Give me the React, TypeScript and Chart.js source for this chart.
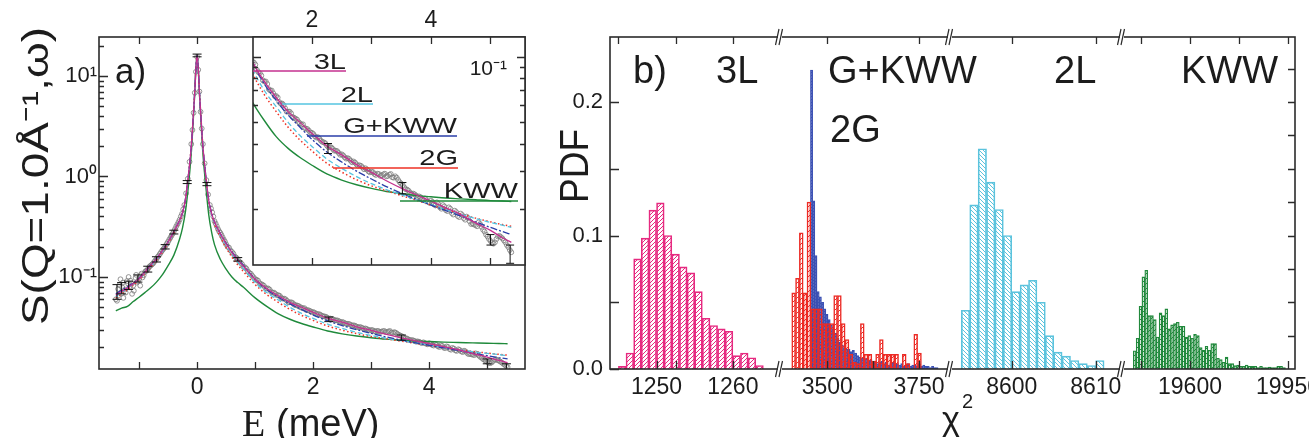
import React, { useEffect, useRef } from "react";
import { Chart, registerables } from "chart.js";

Chart.register(...registerables);

const SANS = '"Liberation Sans", Arial, Helvetica, sans-serif';
const SERIF = '"Liberation Serif", "Times New Roman", serif';
const INK = "#1c1c1c";
const FRAME = "#2b2b2b";

// ---------- colours ----------
const C_KWW_LINE = "#1f8a3b";
const C_2G_LINE = "#ee3124";
const C_2L_LINE = "#55c4e0";
const C_GKWW_LINE = "#2a3ea8";
const C_3L_LINE = "#c4308f";
const C_DATA = "#7a7a7a";

const C_3L_BAR = "#e62a80";
const C_2G_BAR = "#ec2b25";
const C_GKWW_BAR = "#3b50b3";
const C_2L_BAR = "#5bc3dd";
const C_KWW_BAR = "#21893c";

// ---------- panel a: fits (energy grid shared) ----------
const FIT_E = [-1.4, -1.3, -1.2, -1.1, -1.0, -0.9, -0.8, -0.7, -0.6, -0.5, -0.4, -0.3, -0.25, -0.2, -0.15, -0.1, -0.07, -0.04, -0.02, 0, 0.02, 0.04, 0.07, 0.1, 0.15, 0.2, 0.25, 0.3, 0.4, 0.5, 0.6, 0.7, 0.8, 1.0, 1.2, 1.4, 1.6, 1.8, 2.0, 2.25, 2.5, 2.75, 3.0, 3.25, 3.5, 3.75, 4.0, 4.25, 4.5, 4.75, 5.0, 5.2, 5.35];
const FIT_3L = [0.066, 0.072, 0.078, 0.086, 0.096, 0.112, 0.131, 0.152, 0.182, 0.223, 0.283, 0.37, 0.44, 0.6, 1.02, 2.0, 3.6, 7.0, 12, 16, 12, 7.0, 3.6, 2.0, 1.0, 0.58, 0.43, 0.355, 0.27, 0.215, 0.176, 0.148, 0.128, 0.095, 0.077, 0.065, 0.056, 0.05, 0.0445, 0.039, 0.0355, 0.032, 0.0295, 0.027, 0.025, 0.0233, 0.0218, 0.0203, 0.0189, 0.0173, 0.016, 0.0148, 0.0141];
const FIT_2L = [0.064, 0.07, 0.077, 0.085, 0.095, 0.11, 0.128, 0.149, 0.178, 0.218, 0.278, 0.365, 0.435, 0.59, 1.0, 1.98, 3.6, 7.0, 12, 16, 12, 7.0, 3.6, 1.98, 1.0, 0.57, 0.42, 0.345, 0.262, 0.208, 0.17, 0.142, 0.121, 0.088, 0.07, 0.059, 0.05, 0.0435, 0.0388, 0.034, 0.0308, 0.0282, 0.0262, 0.0246, 0.0233, 0.0221, 0.021, 0.0199, 0.019, 0.0181, 0.0174, 0.0169, 0.0165];
const FIT_GKWW = [0.068, 0.074, 0.08, 0.087, 0.097, 0.113, 0.132, 0.153, 0.183, 0.224, 0.284, 0.37, 0.44, 0.6, 1.02, 2.0, 3.6, 7.0, 12, 16, 12, 7.0, 3.6, 2.0, 1.02, 0.59, 0.435, 0.355, 0.272, 0.217, 0.178, 0.15, 0.13, 0.095, 0.075, 0.063, 0.054, 0.0475, 0.0418, 0.0366, 0.0329, 0.0299, 0.0275, 0.0254, 0.0237, 0.0222, 0.0209, 0.0197, 0.0186, 0.0175, 0.0165, 0.0158, 0.0153];
const FIT_2G = [0.062, 0.068, 0.075, 0.083, 0.093, 0.107, 0.125, 0.146, 0.175, 0.215, 0.272, 0.36, 0.43, 0.585, 1.0, 1.98, 3.6, 7.0, 12, 16, 12, 7.0, 3.6, 1.98, 1.0, 0.565, 0.415, 0.335, 0.25, 0.196, 0.158, 0.132, 0.113, 0.084, 0.067, 0.056, 0.0475, 0.0415, 0.037, 0.0325, 0.0296, 0.0273, 0.0256, 0.0243, 0.0231, 0.022, 0.0209, 0.0199, 0.019, 0.0182, 0.0175, 0.017, 0.0167];
const FIT_KWW = [0.046, 0.049, 0.051, 0.057, 0.063, 0.07, 0.078, 0.089, 0.105, 0.13, 0.165, 0.24, 0.31, 0.45, 0.8, 1.7, 3.3, 6.8, 12, 16, 12, 6.8, 3.3, 1.7, 0.8, 0.42, 0.28, 0.21, 0.15, 0.12, 0.1, 0.088, 0.079, 0.062, 0.051, 0.043, 0.038, 0.0345, 0.0318, 0.029, 0.0272, 0.0259, 0.0249, 0.0241, 0.0236, 0.0231, 0.0228, 0.0225, 0.0223, 0.0221, 0.0219, 0.0218, 0.0217];

// ---------- panel a: measured points ----------
const DATA_E = [-1.40, -1.38, -1.36, -1.34, -1.32, -1.30, -1.28, -1.27, -1.24, -1.21, -1.18, -1.16, -1.13, -1.12, -1.09, -1.06, -1.05, -1.02, -0.98, -0.97, -0.94, -0.90, -0.86, -0.82, -0.78, -0.74, -0.70, -0.66, -0.62, -0.58, -0.54, -0.50, -0.46, -0.42, -0.38, -0.34, -0.30, -0.26, -0.22, -0.19, -0.16, -0.13, -0.10, -0.08, -0.06, -0.04, -0.02, 0, 0.02, 0.04, 0.06, 0.08, 0.10, 0.13, 0.16, 0.19, 0.22, 0.26, 0.30, 0.34, 0.38, 0.42, 0.46,
  0.50, 0.55, 0.60, 0.65, 0.70, 0.75, 0.80, 0.85, 0.90, 0.95, 1.00, 1.05, 1.10, 1.15, 1.20, 1.25, 1.30, 1.35, 1.40, 1.45, 1.50, 1.55, 1.60, 1.65, 1.70, 1.75, 1.80, 1.85, 1.90, 1.95, 2.00, 2.05, 2.10, 2.15, 2.20, 2.25, 2.30, 2.35, 2.40, 2.45, 2.50, 2.55, 2.60, 2.65, 2.70, 2.75, 2.80, 2.85, 2.90, 2.95, 3.00, 3.05, 3.10, 3.15, 3.20, 3.25, 3.30, 3.35, 3.40, 3.45, 3.50, 3.55, 3.60, 3.65, 3.70, 3.75, 3.80, 3.85, 3.90, 3.95, 4.00, 4.05, 4.10, 4.15, 4.20, 4.25, 4.30, 4.35, 4.40, 4.45, 4.50, 4.55, 4.60, 4.65, 4.70, 4.75, 4.80, 4.85, 4.90, 4.95, 5.00, 5.05, 5.10, 5.15, 5.20, 5.25, 5.30, 5.35];
const DATA_S = [0.060, 0.058, 0.076, 0.083, 0.095, 0.069, 0.088, 0.062, 0.075, 0.091, 0.1, 0.08, 0.086, 0.068, 0.073, 0.098, 0.105, 0.091, 0.082, 0.104, 0.099, 0.112, 0.117, 0.127, 0.133, 0.141, 0.151, 0.163, 0.177, 0.19, 0.206, 0.224, 0.246, 0.27, 0.3, 0.334, 0.372, 0.425, 0.52, 0.68, 0.95, 1.4, 2.1, 2.9, 4.3, 6.8, 11, 15.5, 11.5, 7.0, 4.4, 3.0, 2.1, 1.35, 0.92, 0.66, 0.52, 0.44, 0.36, 0.32, 0.285, 0.262, 0.235,
  0.212, 0.196, 0.178, 0.16, 0.151, 0.139, 0.126, 0.121, 0.11, 0.103, 0.095, 0.092, 0.085, 0.082, 0.077, 0.075, 0.07, 0.068, 0.066, 0.062, 0.061, 0.058, 0.056, 0.055, 0.0525, 0.0515, 0.0495, 0.049, 0.0468, 0.0458, 0.0448, 0.0432, 0.0428, 0.0412, 0.0405, 0.0392, 0.0386, 0.0378, 0.0371, 0.0362, 0.0357, 0.0346, 0.0343, 0.0334, 0.0331, 0.0321, 0.0318, 0.0311, 0.0308, 0.0298, 0.0297, 0.029, 0.0291, 0.0284, 0.0289, 0.0283, 0.0288, 0.028, 0.0283, 0.0272, 0.0262, 0.0252, 0.0246, 0.0238, 0.0236, 0.0231, 0.0229, 0.0223, 0.0224, 0.0216, 0.0219, 0.0211, 0.0215, 0.0204, 0.0209, 0.0198, 0.0204, 0.0192, 0.0197, 0.0186, 0.0191, 0.0182, 0.0185, 0.0176, 0.0172, 0.0169, 0.0174, 0.0166, 0.0158, 0.015, 0.0143, 0.0139, 0.0146, 0.0151, 0.0147, 0.0141, 0.0134, 0.0127];
// second (interleaved) group of measured points
const DATA2_E = [-1.35, -1.29, -1.23, -1.19, -1.15, -1.10, -1.04, -1.00, -0.96, -0.92, -0.88, -0.84, -0.80, -0.76, -0.72, -0.68, -0.64, -0.60, -0.56, -0.52, -0.48, -0.44, -0.40, -0.36, -0.32, -0.28, -0.24,
  0.24, 0.28, 0.32, 0.36, 0.40, 0.44, 0.48,
  0.525, 0.575, 0.625, 0.675, 0.725, 0.775, 0.825, 0.875, 0.925, 0.975, 1.025, 1.075, 1.125, 1.175, 1.225, 1.275, 1.325, 1.375, 1.425, 1.475, 1.525, 1.575, 1.625, 1.675, 1.725, 1.775, 1.825, 1.875, 1.925, 1.975, 2.025, 2.075, 2.125, 2.175, 2.225, 2.275, 2.325, 2.375, 2.425, 2.475, 2.525, 2.575, 2.625, 2.675, 2.725, 2.775, 2.825, 2.875, 2.925, 2.975, 3.025, 3.075, 3.125, 3.175, 3.225, 3.275, 3.325, 3.375, 3.425, 3.475, 3.525, 3.575, 3.625, 3.675, 3.725, 3.775, 3.825, 3.875, 3.925, 3.975, 4.025, 4.075, 4.125, 4.175, 4.225, 4.275, 4.325, 4.375, 4.425, 4.475, 4.525, 4.575, 4.625, 4.675, 4.725, 4.775, 4.825, 4.875, 4.925, 4.975, 5.025, 5.075, 5.125, 5.175, 5.225, 5.275, 5.325];
const DATA2_S = [0.066, 0.079, 0.07, 0.086, 0.092, 0.082, 0.088, 0.095, 0.108, 0.104, 0.115, 0.122, 0.13, 0.136, 0.146, 0.158, 0.17, 0.184, 0.197, 0.215, 0.235, 0.258, 0.285, 0.318, 0.352, 0.4, 0.47,
  0.48, 0.4, 0.34, 0.3, 0.275, 0.248, 0.225,
  0.2, 0.184, 0.171, 0.156, 0.143, 0.134, 0.125, 0.114, 0.108, 0.099, 0.094, 0.087, 0.084, 0.078, 0.077, 0.071, 0.07, 0.066, 0.065, 0.061, 0.06, 0.056, 0.056, 0.053, 0.052, 0.0502, 0.0488, 0.0472, 0.0466, 0.0449, 0.0442, 0.0426, 0.0421, 0.0407, 0.0401, 0.0385, 0.0384, 0.0371, 0.0369, 0.0355, 0.0353, 0.0341, 0.034, 0.0328, 0.0327, 0.0316, 0.0316, 0.0305, 0.0304, 0.0295, 0.0296, 0.0287, 0.029, 0.0286, 0.0291, 0.0284, 0.029, 0.0279, 0.0279, 0.0266, 0.0258, 0.0247, 0.0243, 0.0235, 0.0234, 0.0227, 0.0227, 0.022, 0.022, 0.0214, 0.0216, 0.0208, 0.0211, 0.0201, 0.0206, 0.0196, 0.0201, 0.0189, 0.0194, 0.0184, 0.0188, 0.0179, 0.0182, 0.0171, 0.017, 0.0167, 0.0171, 0.0161, 0.0153, 0.0146, 0.014, 0.0141, 0.015, 0.0149, 0.0144, 0.0137, 0.013];

// error bars (energy, value, half-error)
const ERR_E = [-1.38, -1.30, -1.18, -1.02, -0.85, -0.70, -0.55, -0.40, -0.17, 0.0, 0.17, 0.70, 2.27, 3.52, 5.0, 5.33];
const ERR_S = [0.072, 0.078, 0.083, 0.097, 0.12, 0.15, 0.2, 0.28, 0.88, 16, 0.84, 0.15, 0.038, 0.025, 0.0145, 0.0125];
const ERR_D = [0.012, 0.01, 0.008, 0.008, 0.008, 0.009, 0.01, 0.012, 0.03, 0.5, 0.03, 0.006, 0.002, 0.0015, 0.0008, 0.0012];

// ticks / labels panel a
const MAIN_X_TICKS = [-1, 0, 1, 2, 3, 4, 5];
const MAIN_X_LABELS = [0, 2, 4];
const MAIN_Y_TICKS = [0.02, 0.03, 0.04, 0.05, 0.06, 0.07, 0.08, 0.09, 0.1, 0.2, 0.3, 0.4, 0.5, 0.6, 0.7, 0.8, 0.9, 1, 2, 3, 4, 5, 6, 7, 8, 9, 10, 20];
const DECADE_LABELS: Record<string, string> = { "0.1": "10\u207B\u00B9", "1": "10\u2070", "10": "10\u00B9" };
const INSET_X_TICKS = [2, 3, 4, 5];
const INSET_X_LABELS = [2, 4];
const INSET_Y_TICKS = [0.02, 0.03, 0.04, 0.05, 0.06, 0.07, 0.08, 0.09, 0.1];

// ---------- panel b: histograms (bin start, bin width, PDF per bin) ----------
const L3_START = 1245, L3_WIDTH = 1;
const L3_PDF = [0.002, 0.012, 0.0825, 0.098, 0.119, 0.1245, 0.1, 0.086, 0.0765, 0.072, 0.058, 0.038, 0.0326, 0.03, 0.0283, 0.01, 0.012, 0.0084, 0.0026];
const G2_START = 3403, G2_WIDTH = 10.4;
const G2_PDF = [0.057, 0.068, 0.102, 0.057, 0.125, 0.045, 0.045, 0.045, 0.034, 0.034, 0.034, 0.055, 0.055, 0.034, 0.022, 0.011, 0.005, 0.004, 0.034, 0.011, 0.011, 0.006, 0.011, 0.022, 0.011, 0.011, 0.011, 0.011, 0, 0.011, 0.004, 0, 0.026, 0.012];
const GK_START = 3454, GK_WIDTH = 6;
const GK_PDF = [0.224, 0.126, 0.085, 0.058, 0.054, 0.05, 0.045, 0.041, 0.037, 0.033, 0.03, 0.027, 0.023, 0.02, 0.018, 0.016, 0.015, 0.015, 0.013, 0.014, 0.012, 0.01, 0.009, 0.008, 0.007, 0.008, 0.006, 0.007, 0.005, 0.006, 0.004, 0.005, 0.006, 0.004, 0.005, 0.003, 0.004, 0.005, 0.003, 0.004, 0.003, 0.004, 0.002, 0.003, 0.004, 0.002, 0.003, 0.003, 0.002, 0.004, 0.002, 0.003, 0.002, 0.002, 0.001, 0.002, 0.001, 0.001];
const L2_START = 8594, L2_WIDTH = 1;
const L2_PDF = [0.044, 0.123, 0.165, 0.14, 0.1195, 0.1, 0.058, 0.063, 0.0665, 0.05, 0.025, 0.0126, 0.0096, 0.0064, 0.004, 0.0026, 0.0064];
const KWW_START = 19397.5, KWW_WIDTH = 10.25;
const KWW_PDF = [0.0137, 0.023, 0.047, 0.069, 0.074, 0.04, 0.04, 0.037, 0.024, 0.042, 0.04, 0.045, 0.03, 0.033, 0.034, 0.035, 0.032, 0.032, 0.024, 0.025, 0.023, 0.026, 0.025, 0.016, 0.014, 0.017, 0.014, 0.019, 0.019, 0.008, 0.007, 0.005, 0.009, 0.004, 0.004, 0.0025, 0.003, 0.002, 0.002, 0.003, 0.002, 0.002, 0.002, 0.001, 0.002, 0.001, 0.001, 0.0015, 0.001, 0.001, 0.002, 0.002, 0.001];

// axis segments (broken chi^2 axis)
const SEG_RANGES = [[1243.9, 1266.18], [3371.0, 3834.5], [8592.65, 8613.13], [19357.1, 19975]];
const SEG_WEIGHTS = [170, 170, 172, 173];
const SEG_BOTTOM_TICKS = [[1250, 1252.5, 1260], [3500, 3625, 3750], [8600, 8610], [19425, 19600, 19775, 19950]];
const SEG_TOP_TICKS = [[1245, 1252.5, 1260], [3500, 3750], [8600, 8610], [19425, 19600, 19775, 19950]];
const SEG_LABELS = [[1250, 1260], [3500, 3750], [8600, 8610], [19600, 19950]];
const PDF_LEFT_TICKS = [0, 0.05, 0.1, 0.15, 0.2];
const PDF_RIGHT_TICKS = [0.025, 0.05, 0.075, 0.1, 0.125, 0.15, 0.175, 0.2, 0.225];
const PDF_LABELS = [0, 0.1, 0.2];

// ---------- helpers ----------
const pts = (xs: number[], ys: number[]) => xs.map((x, i) => ({ x, y: ys[i] }));
const bins = (start: number, width: number, vals: number[]) => vals.map((v, i) => ({ x: start + width * (i + 0.5), y: v }));
const isDecade = (v: number) => Math.abs(Math.log10(v) - Math.round(Math.log10(v))) < 1e-9;

function hatch(color: string, forward: boolean, size: number, lw = 1) {
  const c = document.createElement("canvas");
  c.width = size; c.height = size;
  const g = c.getContext("2d")!;
  g.strokeStyle = color; g.lineWidth = lw;
  g.beginPath();
  for (const o of [-size, 0, size]) {
    if (forward) { g.moveTo(o, size); g.lineTo(o + size, 0); }
    else { g.moveTo(o, 0); g.lineTo(o + size, size); }
  }
  g.stroke();
  return g.createPattern(c, "repeat")!;
}

function ticksX(ctx: CanvasRenderingContext2D, scale: any, vals: number[], yEdge: number, len: number, dir: number) {
  ctx.beginPath();
  for (const v of vals) {
    const px = Math.round(scale.getPixelForValue(v)) + 0.5;
    ctx.moveTo(px, yEdge); ctx.lineTo(px, yEdge + dir * len);
  }
  ctx.stroke();
}
function ticksY(ctx: CanvasRenderingContext2D, scale: any, vals: number[], xEdge: number, lenOf: (v: number) => number, dir: number) {
  ctx.beginPath();
  for (const v of vals) {
    const py = Math.round(scale.getPixelForValue(v)) + 0.5;
    ctx.moveTo(xEdge, py); ctx.lineTo(xEdge + dir * lenOf(v), py);
  }
  ctx.stroke();
}
function errorBars(chart: any, cap: number) {
  const { ctx, chartArea: a, scales } = chart;
  const x = scales.x, y = scales.y;
  ctx.save();
  ctx.beginPath(); ctx.rect(a.left, a.top, a.right - a.left, a.bottom - a.top); ctx.clip();
  ctx.strokeStyle = "#111"; ctx.lineWidth = 1;
  ERR_E.forEach((e, i) => {
    const px = x.getPixelForValue(e);
    const y1 = y.getPixelForValue(ERR_S[i] - ERR_D[i]);
    const y2 = y.getPixelForValue(ERR_S[i] + ERR_D[i]);
    ctx.beginPath();
    ctx.moveTo(px, y1); ctx.lineTo(px, y2);
    ctx.moveTo(px - cap, y1); ctx.lineTo(px + cap, y1);
    ctx.moveTo(px - cap, y2); ctx.lineTo(px + cap, y2);
    ctx.stroke();
  });
  ctx.restore();
}
function frame(ctx: CanvasRenderingContext2D, a: any) {
  ctx.strokeStyle = FRAME; ctx.lineWidth = 1.6;
  ctx.strokeRect(a.left, a.top, a.right - a.left, a.bottom - a.top);
  ctx.lineWidth = 1.3;
}
function rotatedText(ctx: CanvasRenderingContext2D, s: string, baseX: number, centerY: number, size: number, length: number) {
  ctx.save();
  ctx.translate(baseX, centerY);
  ctx.rotate(-Math.PI / 2);
  ctx.font = `${size}px ${SANS}`;
  const w = ctx.measureText(s).width;
  ctx.scale(length / w, 1);
  ctx.textAlign = "center"; ctx.textBaseline = "alphabetic";
  ctx.fillStyle = INK;
  ctx.fillText(s, 0, 0);
  ctx.restore();
}
function stretchedText(ctx: CanvasRenderingContext2D, s: string, xRight: number, baseline: number, size: number, sx: number) {
  ctx.save();
  ctx.translate(xRight, baseline);
  ctx.scale(sx, 1);
  ctx.font = `${size}px ${SANS}`;
  ctx.textAlign = "right"; ctx.textBaseline = "alphabetic";
  ctx.fillStyle = INK;
  ctx.fillText(s, 0, 0);
  ctx.restore();
}

const fit = (label: string, ys: number[], color: string, dash: number[], width: number, order: number) => ({
  label, data: pts(FIT_E, ys), showLine: true, borderColor: color, borderWidth: width, borderDash: dash,
  pointRadius: 0, fill: false, cubicInterpolationMode: "monotone" as const, order,
});
const dataSet = (label: string, xs: number[], ys: number[]) => ({
  label, data: pts(xs, ys), showLine: false, pointStyle: "circle" as const,
  pointRadius: 2.4, pointBorderWidth: 0.8, borderColor: C_DATA, backgroundColor: "rgba(0,0,0,0)", order: 10,
});
const fitSets = () => [
  dataSet("data", DATA_E, DATA_S),
  dataSet("data2", DATA2_E, DATA2_S),
  fit("KWW", FIT_KWW, C_KWW_LINE, [], 1.4, 5),
  fit("2G", FIT_2G, C_2G_LINE, [1.5, 2.5], 1.5, 4),
  fit("2L", FIT_2L, C_2L_LINE, [5, 3], 1.3, 3),
  fit("G+KWW", FIT_GKWW, C_GKWW_LINE, [7, 2, 2, 2], 1.3, 2),
  fit("3L", FIT_3L, C_3L_LINE, [], 1.3, 1),
];

// ---------- panel a main ----------
function makeMain(canvas: HTMLCanvasElement) {
  const plugin = {
    id: "mainDeco",
    afterDatasetsDraw(chart: any) { errorBars(chart, 4.5); },
    afterDraw(chart: any) {
      const { ctx, chartArea: a, scales } = chart;
      ctx.save();
      frame(ctx, a);
      ticksX(ctx, scales.x, MAIN_X_TICKS, a.bottom, 7, -1);
      ticksX(ctx, scales.x, MAIN_X_TICKS, a.top, 7, 1);
      ticksY(ctx, scales.y, MAIN_Y_TICKS, a.left, (v) => (isDecade(v) ? 9 : 5), 1);
      ctx.fillStyle = INK;
      ctx.font = `35px ${SANS}`; ctx.textAlign = "left"; ctx.textBaseline = "alphabetic";
      ctx.fillText("a)", 115, 83);
      rotatedText(ctx, "S(Q=1.0\u00C5\u207B\u00B9,\u03C9)", 48, 176, 37, 298);
      ctx.font = `38px ${SERIF}`;
      ctx.fillText("E", 242, 436);
      ctx.font = `38px ${SANS}`;
      ctx.fillText("(meV)", 276, 436);
      ctx.restore();
    },
  };
  return new Chart(canvas, {
    type: "scatter",
    data: { datasets: fitSets() as any },
    options: {
      responsive: false, animation: false, devicePixelRatio: 1, events: [],
      layout: { padding: { left: 0, right: 20, top: 37, bottom: 0 } },
      plugins: { legend: { display: false }, tooltip: { enabled: false } },
      scales: {
        x: {
          type: "linear", min: -1.69, max: 5.65,
          grid: { display: false, drawTicks: false }, border: { display: false },
          ticks: { autoSkip: false, maxRotation: 0, padding: 5, color: INK, font: { family: SANS, size: 23 },
            callback: (v: any) => (MAIN_X_LABELS.includes(v) ? String(v) : "") },
          afterBuildTicks: (s: any) => { s.ticks = MAIN_X_TICKS.map((v) => ({ value: v })); },
          afterFit: (s: any) => { s.height = 69; s.paddingLeft = 0; s.paddingRight = 0; },
        },
        y: {
          type: "logarithmic", min: 0.01216, max: 24.4,
          grid: { display: false, drawTicks: false }, border: { display: false },
          ticks: { autoSkip: false, padding: 2, color: INK, font: { family: SANS, size: 22 },
            callback: (v: any) => DECADE_LABELS[String(v)] || "" },
          afterBuildTicks: (s: any) => { s.ticks = MAIN_Y_TICKS.map((v) => ({ value: v })); },
          afterFit: (s: any) => { s.width = 99; s.paddingTop = 0; s.paddingBottom = 0; },
        },
      },
    } as any,
    plugins: [plugin],
  });
}

// ---------- panel a inset ----------
const INSET_OFF = 243;
const INSET_LEGEND = [
  { t: "3L", c: C_3L_LINE, x0: 253, x1: 346, ly: 71, tb: 69 },
  { t: "2L", c: C_2L_LINE, x0: 282, x1: 373, ly: 104, tb: 102 },
  { t: "G+KWW", c: C_GKWW_LINE, x0: 307, x1: 457, ly: 136, tb: 133 },
  { t: "2G", c: C_2G_LINE, x0: 333, x1: 458, ly: 168, tb: 165 },
  { t: "KWW", c: C_KWW_LINE, x0: 400, x1: 518, ly: 201, tb: 198 },
];
function makeInset(canvas: HTMLCanvasElement) {
  const plugin = {
    id: "insetDeco",
    beforeDraw(chart: any) {
      const { ctx, chartArea: a } = chart;
      ctx.save(); ctx.fillStyle = "#fff";
      ctx.fillRect(a.left, a.top, a.right - a.left, a.bottom - a.top);
      ctx.restore();
    },
    afterDatasetsDraw(chart: any) { errorBars(chart, 4); },
    afterDraw(chart: any) {
      const { ctx, chartArea: a, scales } = chart;
      ctx.save();
      frame(ctx, a);
      ticksX(ctx, scales.x, INSET_X_TICKS, a.bottom, 7, -1);
      ticksX(ctx, scales.x, INSET_X_TICKS, a.top, 7, 1);
      ticksY(ctx, scales.y, INSET_Y_TICKS, a.left, (v) => (isDecade(v) ? 8 : 5), 1);
      ticksY(ctx, scales.y, INSET_Y_TICKS, a.right, (v) => (isDecade(v) ? 8 : 5), -1);
      ctx.translate(-INSET_OFF, 0);
      ctx.font = `21px ${SANS}`; ctx.fillStyle = INK; ctx.textAlign = "right"; ctx.textBaseline = "alphabetic";
      ctx.fillText("10\u207B\u00B9", 507, 75);
      for (const L of INSET_LEGEND) {
        ctx.strokeStyle = L.c; ctx.lineWidth = 1.4;
        ctx.beginPath(); ctx.moveTo(L.x0, L.ly); ctx.lineTo(L.x1, L.ly); ctx.stroke();
        stretchedText(ctx, L.t, L.x1, L.tb, 22, 1.32);
      }
      ctx.restore();
    },
  };
  return new Chart(canvas, {
    type: "scatter",
    data: { datasets: fitSets() as any },
    options: {
      responsive: false, animation: false, devicePixelRatio: 1, events: [],
      layout: { padding: { left: 10, right: 0, top: 0, bottom: 10 } },
      plugins: { legend: { display: false }, tooltip: { enabled: false } },
      scales: {
        x: {
          type: "linear", position: "top", min: 1.01, max: 5.58,
          grid: { display: false, drawTicks: false }, border: { display: false },
          ticks: { autoSkip: false, maxRotation: 0, padding: 3, color: INK, font: { family: SANS, size: 23 },
            callback: (v: any) => (INSET_X_LABELS.includes(v) ? String(v) : "") },
          afterBuildTicks: (s: any) => { s.ticks = INSET_X_TICKS.map((v) => ({ value: v })); },
          afterFit: (s: any) => { s.height = 37; s.paddingLeft = 0; s.paddingRight = 0; },
        },
        y: {
          type: "logarithmic", position: "right", min: 0.0111, max: 0.1231,
          grid: { display: false, drawTicks: false }, border: { display: false },
          ticks: { display: false },
          afterBuildTicks: (s: any) => { s.ticks = INSET_Y_TICKS.map((v) => ({ value: v })); },
          afterFit: (s: any) => { s.width = 10; s.paddingTop = 0; s.paddingBottom = 0; },
        },
      },
    } as any,
    plugins: [plugin],
  });
}

// ---------- panel b ----------
const B_OFF = 545;
const B_TEXTS = [
  { t: "b)", x: 633, y: 83 },
  { t: "3L", x: 716, y: 83 },
  { t: "G+KWW", x: 828, y: 83 },
  { t: "2G", x: 830, y: 142 },
  { t: "2L", x: 1054, y: 83 },
  { t: "KWW", x: 1181, y: 83 },
];
function drawBreak(ctx: CanvasRenderingContext2D, bx: number, ey: number) {
  ctx.save();
  ctx.fillStyle = "#fff";
  ctx.fillRect(bx - 2, ey - 2, 4, 4);
  ctx.strokeStyle = FRAME; ctx.lineWidth = 1.2;
  ctx.beginPath();
  ctx.moveTo(bx - 4.5, ey + 8); ctx.lineTo(bx - 1, ey - 8);
  ctx.moveTo(bx - 1, ey + 8); ctx.lineTo(bx + 2.5, ey - 8);
  ctx.stroke();
  ctx.restore();
}
function makePanelB(canvas: HTMLCanvasElement) {
  const segScale = (k: number, position: "bottom" | "top") => ({
    type: "linear", position, stack: "seg", stackWeight: SEG_WEIGHTS[k],
    weight: position === "bottom" ? k + 1 : 4 - k,
    min: SEG_RANGES[k][0], max: SEG_RANGES[k][1], offset: false,
    grid: { display: false, drawTicks: false, offset: false }, border: { display: false },
    ticks: { display: position === "bottom", autoSkip: false, maxRotation: 0, padding: 5, color: INK,
      font: { family: SANS, size: 23 },
      callback: (v: any) => (SEG_LABELS[k].includes(v) ? String(v) : "") },
    afterBuildTicks: (s: any) => {
      const t = position === "bottom" ? SEG_BOTTOM_TICKS[k] : SEG_TOP_TICKS[k];
      s.ticks = t.map((v) => ({ value: v }));
    },
    afterFit: (s: any) => { s.height = position === "bottom" ? 69 : 37; s.paddingLeft = 0; s.paddingRight = 0; },
  });
  const bar = (label: string, data: any[], color: string, pattern: CanvasPattern, xAxisID: string, order: number, bw: number) => ({
    label, data, xAxisID, yAxisID: "y", backgroundColor: pattern, borderColor: color, borderWidth: bw,
    barPercentage: 1, categoryPercentage: 1, grouped: false, order,
  });
  const plugin = {
    id: "bDeco",
    afterDraw(chart: any) {
      const { ctx, chartArea: a, scales: s } = chart;
      ctx.save();
      frame(ctx, a);
      ticksY(ctx, s.y, PDF_LEFT_TICKS, a.left, () => 9, 1);
      ticksY(ctx, s.y, PDF_RIGHT_TICKS, a.right, () => 7, -1);
      for (let k = 0; k < 4; k++) {
        ticksX(ctx, s["x" + (k + 1)], SEG_BOTTOM_TICKS[k], a.bottom, 8, -1);
        ticksX(ctx, s["t" + (k + 1)], SEG_TOP_TICKS[k], a.top, 7, 1);
      }
      for (const id of ["x1", "x2", "x3"]) {
        const bx = s[id].right;
        drawBreak(ctx, bx, a.top);
        drawBreak(ctx, bx, a.bottom);
      }
      ctx.translate(-B_OFF, 0);
      ctx.fillStyle = INK; ctx.font = `38px ${SANS}`; ctx.textAlign = "left"; ctx.textBaseline = "alphabetic";
      for (const T of B_TEXTS) ctx.fillText(T.t, T.x, T.y);
      rotatedText(ctx, "PDF", 588, 166, 40, 74);
      ctx.font = `34px ${SANS}`; ctx.textAlign = "left";
      ctx.fillText("\u03C7", 942, 430);
      ctx.font = `20px ${SANS}`;
      ctx.fillText("2", 962, 408);
      ctx.restore();
    },
  };
  return new Chart(canvas, {
    type: "bar",
    data: {
      datasets: [
        bar("3L", bins(L3_START, L3_WIDTH, L3_PDF), C_3L_BAR, hatch(C_3L_BAR, true, 4), "x1", 0, 1),
        bar("2G", bins(G2_START, G2_WIDTH, G2_PDF), C_2G_BAR, hatch(C_2G_BAR, true, 5), "x2", 0, 0.9),
        bar("G+KWW", bins(GK_START, GK_WIDTH, GK_PDF), C_GKWW_BAR, hatch(C_GKWW_BAR, true, 3), "t2", 1, 0.7),
        bar("2L", bins(L2_START, L2_WIDTH, L2_PDF), C_2L_BAR, hatch(C_2L_BAR, false, 4), "x3", 0, 1),
        bar("KWW", bins(KWW_START, KWW_WIDTH, KWW_PDF), C_KWW_BAR, hatch(C_KWW_BAR, true, 5), "x4", 0, 0.7),
      ] as any,
    },
    options: {
      responsive: false, animation: false, devicePixelRatio: 1, events: [],
      layout: { padding: { left: 0, right: 14, top: 0, bottom: 0 } },
      plugins: { legend: { display: false }, tooltip: { enabled: false } },
      scales: {
        y: {
          type: "linear", position: "left", min: 0, max: 0.2487,
          grid: { display: false, drawTicks: false }, border: { display: false },
          ticks: { autoSkip: false, padding: 7, color: INK, font: { family: SANS, size: 22 },
            callback: (v: any) => (PDF_LABELS.includes(v) ? Number(v).toFixed(1) : "") },
          afterBuildTicks: (s: any) => { s.ticks = PDF_LEFT_TICKS.map((v) => ({ value: v })); },
          afterFit: (s: any) => { s.width = 65; s.paddingTop = 0; s.paddingBottom = 0; },
        },
        x1: segScale(0, "bottom"), x2: segScale(1, "bottom"), x3: segScale(2, "bottom"), x4: segScale(3, "bottom"),
        t1: segScale(0, "top"), t2: segScale(1, "top"), t3: segScale(2, "top"), t4: segScale(3, "top"),
      },
    } as any,
    plugins: [plugin],
  });
}

export default function App() {
  const aRef = useRef<HTMLCanvasElement>(null);
  const iRef = useRef<HTMLCanvasElement>(null);
  const bRef = useRef<HTMLCanvasElement>(null);
  useEffect(() => {
    document.body.style.margin = "0";
    const charts = [makeMain(aRef.current!), makeInset(iRef.current!), makePanelB(bRef.current!)];
    return () => charts.forEach((c) => c.destroy());
  }, []);
  return (
    <div style={{ position: "relative", width: 1309, height: 438, background: "#fff", overflow: "hidden" }}>
      <canvas ref={aRef} width={545} height={438} style={{ position: "absolute", left: 0, top: 0 }} />
      <canvas ref={iRef} width={292} height={275} style={{ position: "absolute", left: INSET_OFF, top: 0 }} />
      <canvas ref={bRef} width={764} height={438} style={{ position: "absolute", left: B_OFF, top: 0 }} />
    </div>
  );
}
